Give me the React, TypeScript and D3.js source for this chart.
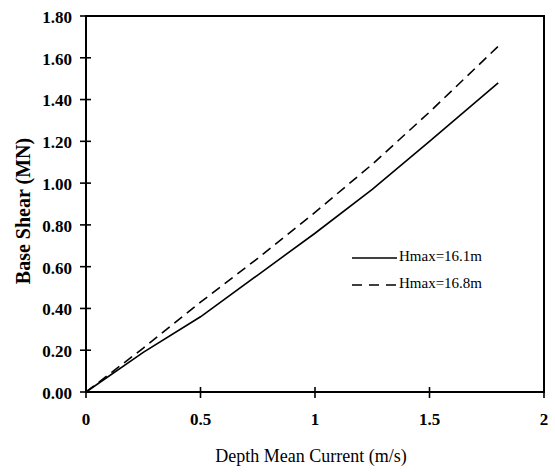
import React from 'react';
import * as d3 from 'd3';

const width = 555;
const height = 472;
const margin = {top: 16, right: 11, bottom: 80, left: 86};

// depth mean current (m/s)
const current = [0, 0.25, 0.5, 0.75, 1.0, 1.25, 1.5, 1.8];
// base shear (MN)
const shear161 = [0, 0.19, 0.36, 0.56, 0.76, 0.97, 1.2, 1.48];
const shear168 = [0, 0.21, 0.43, 0.64, 0.86, 1.09, 1.34, 1.655];

const xTicks = [0, 0.5, 1, 1.5, 2];
const xTickLabels = ['0', '0.5', '1', '1.5', '2'];
const yTicks = [0, 0.2, 0.4, 0.6, 0.8, 1.0, 1.2, 1.4, 1.6, 1.8];
const yTickLabels = ['0.00', '0.20', '0.40', '0.60', '0.80', '1.00', '1.20', '1.40', '1.60', '1.80'];

const seriesNames = ['Hmax=16.1m', 'Hmax=16.8m'];
const serif = '"Liberation Serif", "Times New Roman", serif';

export default function App() {
  const x = d3.scaleLinear().domain([0, 2]).range([margin.left, width - margin.right]);
  const y = d3.scaleLinear().domain([0, 1.8]).range([height - margin.bottom, margin.top]);

  const line = d3.line<number>()
    .x((d, i) => x(current[i]))
    .y(d => y(d));

  const x0 = x(0), x1 = x(2), y0 = y(0), y1 = y(1.8);

  return (
    <svg width={width} height={height} style={{position: 'absolute', left: 0, top: 0, background: '#fff'}}>
      <rect x={0} y={0} width={width} height={height} fill="#fff" />
      {/* frame */}
      <rect x={x0} y={y1} width={x1 - x0} height={y0 - y1} fill="none" stroke="#000" strokeWidth={2} />

      {/* y ticks */}
      {yTicks.map((t, i) => (
        <g key={'y' + i}>
          <line x1={x0 - 6} x2={x0 + 5} y1={y(t)} y2={y(t)} stroke="#000" strokeWidth={1.6} />
          <text x={72} y={y(t) + 3} textAnchor="end" dominantBaseline="middle"
            fontFamily={serif} fontWeight="bold" fontSize={17}>{yTickLabels[i]}</text>
        </g>
      ))}

      {/* x ticks */}
      {xTicks.map((t, i) => (
        <g key={'x' + i}>
          <line x1={x(t)} x2={x(t)} y1={y0 - 5} y2={y0 + 6} stroke="#000" strokeWidth={1.6} />
          <text x={x(t)} y={425} textAnchor="middle"
            fontFamily={serif} fontWeight="bold" fontSize={17}>{xTickLabels[i]}</text>
        </g>
      ))}

      {/* series */}
      <path d={line(shear161) || ''} fill="none" stroke="#000" strokeWidth={1.6} />
      <path d={line(shear168) || ''} fill="none" stroke="#000" strokeWidth={1.6} strokeDasharray="10,6" />

      {/* legend */}
      <line x1={352} x2={397} y1={258} y2={258} stroke="#000" strokeWidth={1.6} />
      <text x={399} y={258} dominantBaseline="middle" fontFamily={serif} fontSize={15}>{seriesNames[0]}</text>
      <line x1={352} x2={397} y1={285} y2={285} stroke="#000" strokeWidth={1.6} strokeDasharray="10,7" />
      <text x={399} y={285} dominantBaseline="middle" fontFamily={serif} fontSize={15}>{seriesNames[1]}</text>

      {/* axis titles */}
      <text x={311} y={462} textAnchor="middle" fontFamily={serif} fontSize={18}>Depth Mean Current (m/s)</text>
      <text transform={`translate(30, ${(y0 + y1) / 2 + 7}) rotate(-90)`} textAnchor="middle"
        fontFamily={serif} fontWeight="bold" fontSize={20}>Base Shear (MN)</text>
    </svg>
  );
}
